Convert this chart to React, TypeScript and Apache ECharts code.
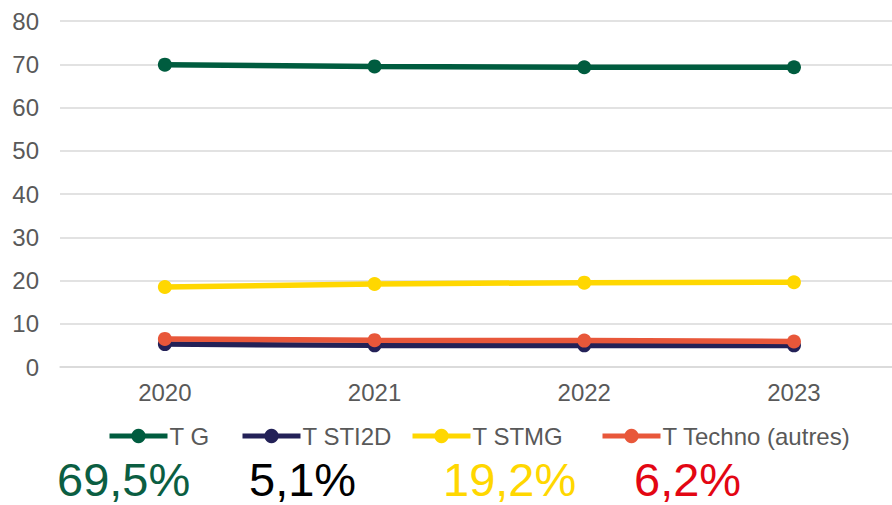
import React, { useEffect, useRef } from "react";
import * as echarts from "echarts";

const years = ["2020", "2021", "2022", "2023"];
const seriesNames = ["T G", "T STI2D", "T STMG", "T Techno (autres)"];
const tG = [69.9, 69.5, 69.3, 69.3];
const tSTI2D = [5.3, 5.0, 5.0, 5.0];
const tSTMG = [18.5, 19.2, 19.5, 19.6];
const tTechno = [6.5, 6.2, 6.1, 5.9];
const seriesColors = ["#005C3F", "#232157", "#FFD700", "#E8573A"];
const percentLabels = ["69,5%", "5,1%", "19,2%", "6,2%"];
const percentColors = ["#0B5E42", "#000000", "#FFD700", "#E30613"];

export default function App() {
  const ref = useRef<HTMLDivElement>(null);
  useEffect(() => {
    if (!ref.current) return;
    const chart = echarts.init(ref.current, null, { renderer: "svg" });
    const data = [tG, tSTI2D, tSTMG, tTechno];
    const yearNums = years.map((y) => Number(y));
    const legendLefts = [107, 240, 410, 600];
    const percentLefts = [57, 249, 443, 634];
    chart.setOption({
      animation: false,
      backgroundColor: "#ffffff",
      textStyle: { fontFamily: "Liberation Sans, Arial, sans-serif" },
      grid: { left: 60, top: 21, right: 0, height: 346, containLabel: false },
      xAxis: {
        type: "value",
        min: yearNums[0] - 0.5,
        max: yearNums[0] - 0.5 + 832 / 209.7,
        axisLine: { show: true, lineStyle: { color: "#D9D9D9", width: 1.5 } },
        axisTick: { show: false },
        splitLine: { show: false },
        axisLabel: {
          color: "#595959",
          fontSize: 24,
          margin: 13,
          fontFamily: "Liberation Sans, Arial, sans-serif",
          customValues: yearNums,
          formatter: (v: number) => String(Math.round(v)),
          showMinLabel: true,
          showMaxLabel: true,
        },
      },
      yAxis: {
        type: "value",
        min: 0,
        max: 80,
        interval: 10,
        axisLine: { show: false },
        axisTick: { show: false },
        axisLabel: { color: "#595959", fontSize: 24, margin: 21, fontFamily: "Liberation Sans, Arial, sans-serif" },
        splitLine: { lineStyle: { color: "#D9D9D9", width: 1.5 } },
      },
      legend: seriesNames.map((n, i) => ({
        data: [n],
        left: legendLefts[i],
        top: 424,
        padding: 0,
        itemWidth: 58,
        itemHeight: 18,
        itemGap: 0,
        lineStyle: { width: 5 },
        textStyle: { color: "#595959", fontSize: 24, fontFamily: "Liberation Sans, Arial, sans-serif", padding: [0, 0, 0, -3] },
      })),
      series: seriesNames.map((n, i) => ({
        name: n,
        type: "line",
        data: data[i].map((v, j) => [yearNums[j], v]),
        symbol: "circle",
        symbolSize: 14,
        lineStyle: { width: 5.5, color: seriesColors[i] },
        itemStyle: { color: seriesColors[i] },
        z: i === 3 ? 3 : 2,
      })),
      graphic: percentLabels.map((t, i) => ({
        type: "text",
        left: percentLefts[i],
        top: 456,
        style: {
          text: t,
          fill: percentColors[i],
          font: "47px 'Liberation Sans', Arial, sans-serif",
          lineHeight: 44,
        },
      })),
    });
    return () => chart.dispose();
  }, []);
  return <div ref={ref} style={{ width: 892, height: 505, position: "absolute", left: 0, top: 0 }} />;
}
